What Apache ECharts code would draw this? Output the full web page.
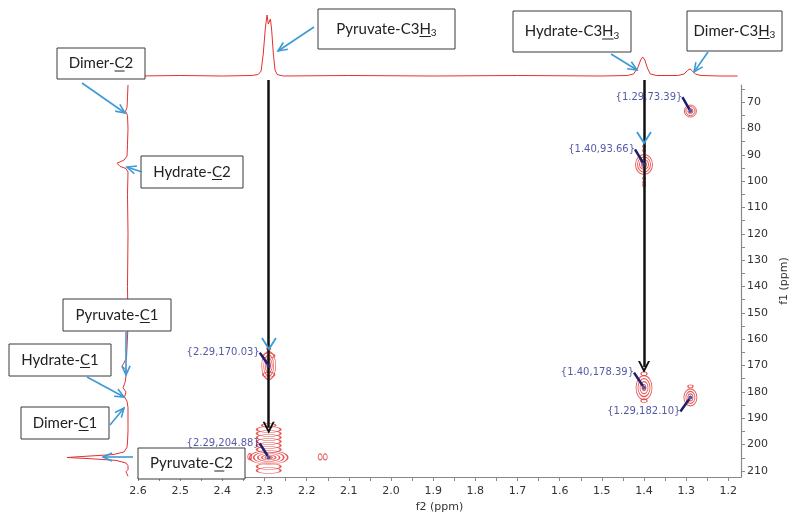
<!DOCTYPE html>
<html>
<head>
<meta charset="utf-8">
<script src="https://cdn.jsdelivr.net/npm/echarts@6/dist/echarts.min.js"></script>
<style>
  html, body { margin: 0; padding: 0; background: #fff; }
  #chart { width: 800px; height: 519px; }
</style>
</head>
<body>
<div id="chart"></div>
<script>
// axis ticks (ppm)
const f2Ticks = [2.6, 2.5, 2.4, 2.3, 2.2, 2.1, 2.0, 1.9, 1.8, 1.7, 1.6, 1.5, 1.4, 1.3, 1.2];
const f2Minor = [2.55, 2.45, 2.35, 2.25, 2.15, 2.05, 1.95, 1.85, 1.75, 1.65, 1.55, 1.45, 1.35, 1.25];
const f1Ticks = [70, 80, 90, 100, 110, 120, 130, 140, 150, 160, 170, 180, 190, 200, 210];
const f1Minor = [65, 75, 85, 95, 105, 115, 125, 135, 145, 155, 165, 175, 185, 195, 205];

// HMBC cross peaks {f2, f1}
const peakF2 = [2.29, 2.29, 1.40, 1.40, 1.29, 1.29];
const peakF1 = [170.03, 204.88, 93.66, 178.39, 73.39, 182.10];

// weak extra contours next to pyruvate C2
const smallF2 = [2.335, 2.168, 2.156];
const smallF1 = [204.6, 204.7, 204.7];

// 1H projection on top (ppm, intensity)
const topPpm = [2.600, 2.500, 2.400, 2.330, 2.315, 2.308, 2.303, 2.298, 2.294, 2.291, 2.289, 2.286, 2.283, 2.279, 2.275, 2.270, 2.255, 2.100, 1.900, 1.700, 1.500, 1.440, 1.425, 1.415, 1.408, 1.403, 1.398, 1.392, 1.385, 1.370, 1.320, 1.305, 1.297, 1.291, 1.285, 1.278, 1.265, 1.220, 1.178];
const topInt = [0, 0.5, 0, 0.5, 1.5, 5, 22, 48, 61, 52, 50, 57, 46, 22, 6, 1.5, 0, 0.5, 0, 0.5, 0, 0.5, 2, 8, 16, 19, 16, 8, 2, 0.5, 0.5, 2, 5.5, 7, 5, 2, 0.5, 0, 0];

// 13C projection on the left (ppm, intensity)
const leftPpm = [63.5, 68, 72, 73.5, 75, 80, 86, 90.5, 92, 93.2, 93.8, 94.4, 95.2, 96.5, 105, 120, 140, 155, 163, 167, 169, 170.2, 171.5, 174, 176.5, 178.4, 180, 182, 183.5, 186, 195, 199, 201, 202.8, 203.8, 204.5, 204.9, 205.3, 206, 207, 208, 209.5, 210.3, 211, 212];
const leftInt = [0, 0.5, 1, 2.5, 0.5, 0, 0.5, 1, 4, 11, 13, 8, 2, 0, 0.5, 0, 0.5, 0, 1, 1.5, 4, 6, 2, 2, 3, 5, 2, 3.5, 1, 0, 0, 0.5, 1, 4, 15, 45, 61, 40, 12, 2, 0, 0, 2, 0.5, 0];

const RED = '#e3302f';
const BLUE = '#3c9ad6';
const NAVY = '#2b2f8f';

// contour rings per peak: [w, h, dy]
const ringStyle = [
  [[14, 28, 0], [10, 21, 0], [7, 14, 0], [4, 8, 0], [12, 5, -10], [12, 5, 9], [4, 3, -17]],
  [[38, 14, 0], [30, 11, 0], [22, 8, 0], [14, 5, 0], [7, 3, 0],
   [24, 6, -28], [24, 6, -24], [24, 6, -20], [24, 6, -16], [24, 6, -12], [24, 6, -8],
   [24, 6, 9], [24, 6, 13], [14, 4, -32]],
  [[17, 20, 0], [13, 15, 0], [9, 10, 0], [5, 6, 0], [3, 3, -14], [3, 3, -18], [3, 3, 14], [3, 3, 18], [3, 3, 21]],
  [[16, 24, 0], [12, 18, 0], [8, 12, 0], [4, 6, 0], [6, 4, -14], [6, 4, 13]],
  [[12, 12, 0], [9, 9, 0], [5, 5, 0]],
  [[13, 17, 0], [9, 12, 0], [5, 7, 0], [5, 3, -11]]
];
const labelShift = [[-3, -13], [-3, -14], [-3, -15], [-4, -15], [-2, -14], [-4, 14]];

const chart = echarts.init(document.getElementById('chart'));

const ringData = [];
peakF2.forEach(function (x, i) {
  ringStyle[i].forEach(function (r) {
    ringData.push({ value: [x, peakF1[i]], symbolSize: [r[0], r[1]], symbolOffset: [0, r[2]] });
  });
});
smallF2.forEach(function (x, i) {
  ringData.push({ value: [x, smallF1[i]], symbolSize: [4, 6] });
});

function arrow(x1, y1, x2, y2) {
  const a = Math.atan2(y2 - y1, x2 - x1), L = 10, s = 0.42;
  const st = { stroke: BLUE, lineWidth: 1.6, fill: null };
  return [
    { type: 'polyline', z: 100, shape: { points: [[x1, y1], [x2, y2]] }, style: st },
    { type: 'polyline', z: 100, shape: { points: [
      [x2 - L * Math.cos(a - s), y2 - L * Math.sin(a - s)], [x2, y2],
      [x2 - L * Math.cos(a + s), y2 - L * Math.sin(a + s)]] }, style: st }
  ];
}

// measure text so the underline and subscript can be placed by hand
const mctx = document.createElement('canvas').getContext('2d');
function tw(s, size) {
  mctx.font = size + 'px Lato';
  return mctx.measureText(s).width;
}
function box(x, y, w, h, pre, u, post, sub) {
  const fs = 15, ss = 10;
  const total = tw(pre + u + post, fs) + (sub ? tw(sub, ss) : 0);
  const sx = x + w / 2 - total / 2, cy = y + h / 2;
  const ux = sx + tw(pre, fs), uw = tw(u, fs);
  const out = [
    { type: 'rect', z: 100, shape: { x: x, y: y, width: w, height: h },
      style: { fill: '#fff', stroke: '#3a3a3a', lineWidth: 1 } },
    { type: 'text', z: 101, x: sx, y: cy,
      style: { text: pre + u + post, align: 'left', verticalAlign: 'middle', fill: '#222',
        fontSize: fs, fontFamily: 'Lato' } },
    { type: 'line', z: 101, shape: { x1: ux, y1: cy + 7.5, x2: ux + uw, y2: cy + 7.5 },
      style: { stroke: '#222', lineWidth: 1 } }
  ];
  if (sub) {
    out.push({ type: 'text', z: 101, x: sx + tw(pre + u + post, fs), y: cy + 4,
      style: { text: sub, align: 'left', verticalAlign: 'middle', fill: '#222',
        fontSize: ss, fontFamily: 'Lato' } });
  }
  return out;
}

let graphics = [];
graphics = graphics.concat(
  box(318, 9, 137, 40, 'Pyruvate-C3', 'H', '', '3'),
  box(513, 11, 118, 41, 'Hydrate-C3', 'H', '', '3'),
  box(687, 11, 95, 40, 'Dimer-C3', 'H', '', '3'),
  box(57, 48, 88, 31, 'Dimer-', 'C', '2'),
  box(141, 156, 102, 32, 'Hydrate-', 'C', '2'),
  box(63, 299, 108, 32, 'Pyruvate-', 'C', '1'),
  box(9, 344, 102, 32, 'Hydrate-', 'C', '1'),
  box(21, 407, 88, 32, 'Dimer-', 'C', '1'),
  box(138, 448, 107, 31, 'Pyruvate-', 'C', '2'),
  arrow(314, 27, 278, 51),
  arrow(611, 54, 637, 70),
  arrow(708, 52, 694, 72),
  arrow(82, 83, 125, 113),
  arrow(142, 172, 127, 167),
  arrow(126, 332, 126, 375),
  arrow(87, 377, 124, 397),
  arrow(110, 425, 124, 408),
  arrow(133, 457, 103, 457)
);
// blue arrowheads sitting on the black guide lines
graphics.push(
  { type: 'polyline', z: 100, shape: { points: [[262, 338], [269, 349], [276, 338]] }, style: { stroke: BLUE, lineWidth: 1.8, fill: null } },
  { type: 'polyline', z: 100, shape: { points: [[637, 132], [644, 143], [651, 132]] }, style: { stroke: BLUE, lineWidth: 1.8, fill: null } }
);

const axisFont = { fontFamily: 'DejaVu Sans', fontSize: 11, color: '#333' };

const option = {
  animation: false,
  grid: [
    { left: 138, right: 59, top: 85, bottom: 42 },
    { left: 138, right: 59, top: 14, height: 62 },
    { left: 58, width: 70, top: 85, bottom: 42 }
  ],
  xAxis: [
    {
      gridIndex: 0, type: 'value', min: 1.17, max: 2.6, inverse: true,
      name: 'f2 (ppm)', nameLocation: 'middle', nameGap: 25,
      nameTextStyle: axisFont,
      axisLine: { show: true, lineStyle: { color: '#888', width: 1.2 } },
      axisTick: { show: true, length: 4, lineStyle: { color: '#888' }, customValues: f2Ticks.concat(f2Minor) },
      axisLabel: Object.assign({ customValues: f2Ticks, margin: 9,
        formatter: function (v) { return v.toFixed(1); } }, axisFont),
      splitLine: { show: false }
    },
    { gridIndex: 1, type: 'value', min: 1.17, max: 2.6, inverse: true, show: false },
    { gridIndex: 2, type: 'value', min: 0, max: 70, inverse: true, show: false }
  ],
  yAxis: [
    {
      gridIndex: 0, type: 'value', position: 'right', min: 63.5, max: 212.3, inverse: true,
      name: 'f1 (ppm)', nameLocation: 'middle', nameGap: 33, nameRotate: 90,
      nameTextStyle: axisFont,
      axisLine: { show: true, lineStyle: { color: '#888', width: 1.2 } },
      axisTick: { show: true, length: 4, lineStyle: { color: '#888' }, customValues: f1Ticks.concat(f1Minor) },
      axisLabel: Object.assign({ customValues: f1Ticks, margin: 6 }, axisFont),
      splitLine: { show: false }
    },
    { gridIndex: 1, type: 'value', min: 0, max: 62, show: false },
    { gridIndex: 2, type: 'value', min: 63.5, max: 212.3, inverse: true, show: false }
  ],
  graphic: graphics,
  series: [
    {
      name: '1H', type: 'line', xAxisIndex: 1, yAxisIndex: 1, showSymbol: false, silent: true,
      data: topPpm.map(function (p, i) { return [p, topInt[i]]; }),
      lineStyle: { color: RED, width: 1 }, clip: false
    },
    {
      name: '13C', type: 'line', xAxisIndex: 2, yAxisIndex: 2, showSymbol: false, silent: true,
      data: leftInt.map(function (v, i) { return [v, leftPpm[i]]; }),
      lineStyle: { color: RED, width: 1 }, clip: false
    },
    {
      name: 'contours', type: 'scatter', xAxisIndex: 0, yAxisIndex: 0, silent: true,
      symbol: 'circle', data: ringData,
      itemStyle: { color: 'rgba(0,0,0,0)', borderColor: RED, borderWidth: 1 }
    },
    {
      name: 'guides', type: 'lines', coordinateSystem: 'cartesian2d',
      xAxisIndex: 0, yAxisIndex: 0, silent: true, z: 5, clip: false,
      symbol: ['none', 'path://M0,11L8,0L16,11L13.3,11L8,3.9L2.7,11Z'],
      symbolSize: [16, 12],
      lineStyle: { color: '#111', width: 2.5, opacity: 1, curveness: 0 },
      data: [
        { coords: [[peakF2[0], 61.6], [peakF2[1], 193.6]] },
        { coords: [[peakF2[2], 61.6], [peakF2[3], 170.5]] }
      ]
    },
    {
      name: 'centres', type: 'scatter', xAxisIndex: 0, yAxisIndex: 0, silent: true, z: 6,
      symbol: 'circle', symbolSize: 4,
      data: peakF2.map(function (x, i) { return [x, peakF1[i]]; }),
      itemStyle: { color: NAVY },
      label: {
        show: true, position: 'left', distance: 4,
        fontFamily: 'DejaVu Sans', fontSize: 10, color: NAVY,
        formatter: function (p) { return '{' + p.value[0].toFixed(2) + ',' + p.value[1].toFixed(2) + '}'; }
      },
      labelLayout: function (p) {
        return { dx: labelShift[p.dataIndex][0], dy: labelShift[p.dataIndex][1] };
      },
      labelLine: { show: true, lineStyle: { color: '#1c1f6e', width: 2.5 } }
    }
  ]
};
chart.setOption(option);
</script>
</body>
</html>
